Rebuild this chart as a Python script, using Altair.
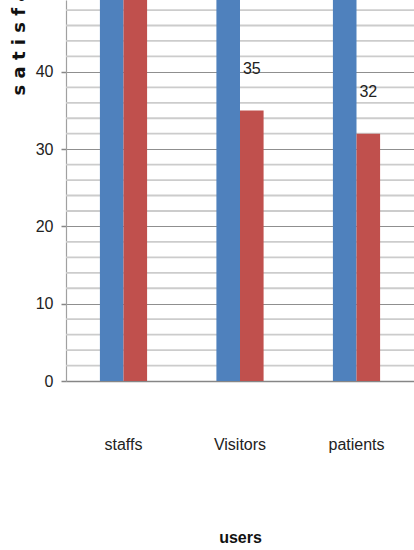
import altair as alt
import pandas as pd

categories = ["staffs", "Visitors", "patients"]
series_names = ["A", "B"]
blue_values = [62, 65, 68]
red_values = [58, 35, 32]
label_cats = ["Visitors", "patients"]
label_values = [35, 32]
major_ticks = [0, 10, 20, 30, 40, 50]
minor_ticks = [2, 4, 6, 8, 12, 14, 16, 18, 22, 24, 26, 28, 32, 34, 36, 38, 42, 44, 46, 48]

rows = []
for c, b, r in zip(categories, blue_values, red_values):
    rows.append({"users": c, "series": series_names[0], "value": b})
    rows.append({"users": c, "series": series_names[1], "value": r})
df = pd.DataFrame(rows)
lab = pd.DataFrame({"users": label_cats, "series": [series_names[1]] * len(label_cats), "value": label_values})
minor = pd.DataFrame({"value": minor_ticks})

FONT = "'Liberation Sans', Arial, sans-serif"

yscale = alt.Scale(domain=[0, 49.3], nice=False, zero=True)
xscale = alt.Scale(domain=categories, paddingInner=0.595, paddingOuter=0.291)

yaxis = alt.Axis(values=major_ticks, title="s a t i s f a c t i o n",
                 grid=True, gridColor="#8f8f8f", gridWidth=1.2,
                 tickSize=5, tickColor="#868686", tickWidth=1.5,
                 domainColor="#a0a0a0", domainWidth=1.2,
                 labelFont=FONT, labelFontSize=16, labelColor="#222",
                 labelPadding=8, labelBaseline="middle",
                 titleFont="DejaVu Sans", titleFontSize=18, titleFontWeight="bold",
                 titleColor="#111", titleAngle=-90, titleAlign="left",
                 titleBaseline="middle", titleX=-47, titleY=95)

grid_minor = alt.Chart(minor).mark_rule(color="#cccccc", strokeWidth=1.8).encode(
    y=alt.Y("value:Q", scale=yscale, axis=yaxis)
)

bars = alt.Chart(df).mark_bar(clip=True).encode(
    x=alt.X("users:N", scale=xscale, sort=categories,
            axis=alt.Axis(title="users", labelAngle=0, ticks=False,
                          labelFont=FONT, labelFontSize=16, labelColor="#222",
                          labelBaseline="middle", labelPadding=63,
                          domainColor="#868686", domainWidth=1.5,
                          titleFont=FONT, titleFontSize=16, titleFontWeight="bold",
                          titleColor="#111", titleBaseline="alphabetic", titleY=161)),
    xOffset=alt.XOffset("series:N", sort=series_names),
    y=alt.Y("value:Q", scale=yscale, axis=yaxis),
    color=alt.Color("series:N", sort=series_names,
                    scale=alt.Scale(domain=series_names, range=["#4F81BD", "#C0504D"]),
                    legend=None),
)

labels = alt.Chart(lab).mark_text(font=FONT, fontSize=16, color="#222",
                                  baseline="middle", dy=-42).encode(
    x=alt.X("users:N", scale=xscale, sort=categories),
    xOffset=alt.XOffset("series:N", sort=series_names),
    y=alt.Y("value:Q", scale=yscale, axis=yaxis),
    text=alt.Text("value:Q"),
)

chart = alt.layer(grid_minor, bars, labels).properties(
    width=348, height=381,
    autosize=alt.AutoSizeParams(type="none"),
    padding={"left": 66, "top": 0, "right": 0, "bottom": 169},
    background="white",
).configure_view(stroke=None)

chart.save("out.html", embed_options={"renderer": "svg", "actions": False})
